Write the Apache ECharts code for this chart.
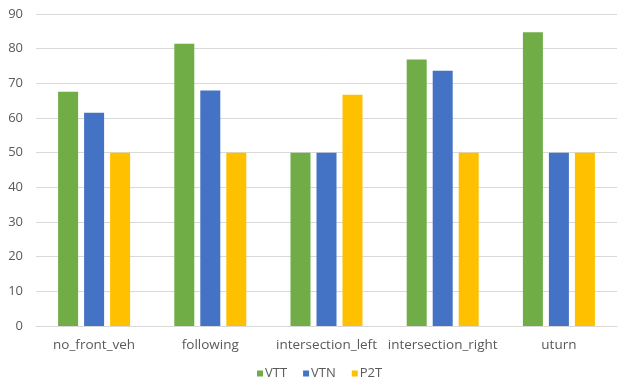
<!DOCTYPE html>
<html>
<head>
<meta charset="utf-8">
<script src="https://cdn.jsdelivr.net/npm/echarts@6/dist/echarts.min.js"></script>
<style>
  html, body { margin: 0; padding: 0; background: #fff; }
  #chart { width: 618px; height: 385px; }
</style>
</head>
<body>
<div id="chart"></div>
<script>
// Scenario categories and per-method scores
const categories = ['no_front_veh', 'following', 'intersection_left', 'intersection_right', 'uturn'];
const vtt = [67.6, 81.4, 50, 76.9, 84.7];
const vtn = [61.5, 67.9, 50, 73.6, 50];
const p2t = [50, 50, 66.7, 50, 50];
const yTicks = [0, 10, 20, 30, 40, 50, 60, 70, 80, 90];

const font = '"Open Sans", "Noto Sans", sans-serif';
const textColor = '#595959';

const chart = echarts.init(document.getElementById('chart'), null, { renderer: 'canvas' });

function barSeries(name, data, color) {
  return {
    name: name,
    type: 'bar',
    data: data,
    barWidth: 20,
    barGap: '30%',
    itemStyle: { color: color },
    emphasis: { disabled: true }
  };
}

chart.setOption({
  animation: false,
  backgroundColor: '#ffffff',
  grid: { left: 36, right: 1, top: 14, bottom: 59, containLabel: false },
  legend: {
    bottom: 0,
    left: 252,
    itemWidth: 6,
    itemHeight: 6,
    itemGap: 16,
    icon: 'rect',
    textStyle: { color: textColor, fontSize: 13, fontFamily: font, padding: [0, 0, 0, -3] },
    data: ['VTT', 'VTN', 'P2T']
  },
  xAxis: {
    type: 'category',
    data: categories,
    axisTick: { show: false },
    axisLine: { lineStyle: { color: '#D9D9D9', width: 1 } },
    axisLabel: { color: textColor, fontSize: 13.5, fontFamily: font, margin: 12, interval: 0 }
  },
  yAxis: {
    type: 'value',
    min: yTicks[0],
    max: yTicks[yTicks.length - 1],
    interval: 10,
    axisLine: { show: false },
    axisTick: { show: false },
    axisLabel: { color: textColor, fontSize: 13, fontFamily: font, margin: 13 },
    splitLine: { lineStyle: { color: '#D9D9D9', width: 1 } }
  },
  series: [
    barSeries('VTT', vtt, '#70AD47'),
    barSeries('VTN', vtn, '#4472C4'),
    barSeries('P2T', p2t, '#FFC000')
  ]
});
</script>
</body>
</html>
